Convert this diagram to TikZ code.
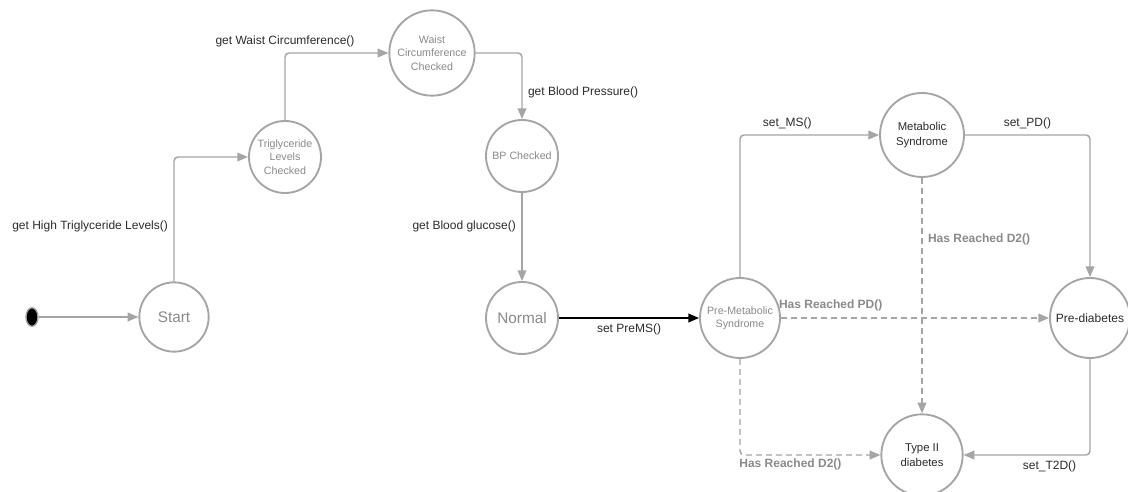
\documentclass[tikz,border=0pt]{standalone}
\usepackage{fontspec}
\setmainfont{Liberation Sans}
\usepackage{xcolor}
\usetikzlibrary{shapes,arrows.meta,positioning}

\definecolor{linegray}{HTML}{A5A5A5}
\definecolor{textgray}{HTML}{8A8A8A}
\definecolor{labelblack}{HTML}{2B2B2B}

\begin{document}
\begin{tikzpicture}[
    x=0.75pt, y=-0.75pt,
    state/.style={circle, draw=linegray, line width=1.4pt, fill=white, minimum size=54pt, inner sep=0pt, align=center, text=textgray, font=\fontsize{8}{10}\selectfont},
    bigstate/.style={state, font=\fontsize{11.5}{13}\selectfont},
    darkstate/.style={state, text=labelblack, font=\fontsize{8.5}{11}\selectfont},
    arrow/.style={-{Triangle[length=8pt,width=6.5pt]}, draw=linegray, line width=1.1pt, rounded corners=3pt},
    dasharrow/.style={arrow, dash pattern=on 4.5pt off 3pt},
    trans/.style={font=\fontsize{9}{11}\selectfont, text=labelblack, inner sep=4pt},
    hint/.style={font=\bfseries\fontsize{9}{11}\selectfont, text=textgray, inner sep=4pt}
]
\useasboundingbox (0,0) rectangle (1128,492);

\node[ellipse, fill=black, draw=linegray, line width=1pt, minimum width=9pt, minimum height=14pt, inner sep=0pt] (init) at (32,317) {};
\node[bigstate, minimum size=52pt] (start) at (174,317) {Start};
\node[state] (trig) at (285,157) {Triglyceride\\Levels\\Checked};
\node[state, minimum size=64pt] (waist) at (432,53) {Waist\\Circumference\\Checked};
\node[state] (bp) at (522,156) {BP Checked};
\node[bigstate] (normal) at (522,318) {Normal};
\node[state, minimum size=60pt] (prems) at (740,318) {Pre-Metabolic\\Syndrome};
\node[darkstate, minimum size=63pt] (ms) at (922,135) {Metabolic\\Syndrome};
\node[darkstate, minimum size=60pt, font=\fontsize{9}{11}\selectfont] (pd) at (1090,318) {Pre-diabetes};
\node[darkstate, minimum size=61pt] (t2d) at (922,455) {Type II\\diabetes};

\draw[arrow] (init) -- (start);
\draw[arrow] (start.north) |- node[trans, pos=0.22, left] {get High Triglyceride Levels()} (trig.west);
\draw[arrow] (trig.north) |- node[trans, pos=0.5, above] {get Waist Circumference()} (waist.west);
\draw[arrow] (waist.east) -| node[trans, pos=0.8, right] {get Blood Pressure()} (bp.north);
\draw[arrow] (bp) -- node[trans, pos=0.38, left] {get Blood glucose()} (normal);
\draw[arrow, draw=black] (normal) -- node[trans, below] {set PreMS()} (prems);
\draw[arrow] (prems.north) |- node[trans, pos=0.67, above] {set\_MS()} (ms.west);
\draw[arrow] (ms.east) -| node[trans, pos=0.25, above] {set\_PD()} (pd.north);
\draw[dasharrow] (ms) -- node[hint, pos=0.26, right] {Has Reached D2()} (t2d);
\draw[dasharrow] (prems) -- node[hint, pos=0, above right, xshift=-6pt, yshift=1pt] {Has Reached PD()} (pd);
\draw[dasharrow] (prems.south) |- node[hint, pos=0.5, below right, xshift=-5pt, yshift=2pt] {Has Reached D2()} (t2d.west);
\draw[arrow] (pd.south) |- node[trans, pos=0.66, below] {set\_T2D()} (t2d.east);
\end{tikzpicture}
\end{document}
